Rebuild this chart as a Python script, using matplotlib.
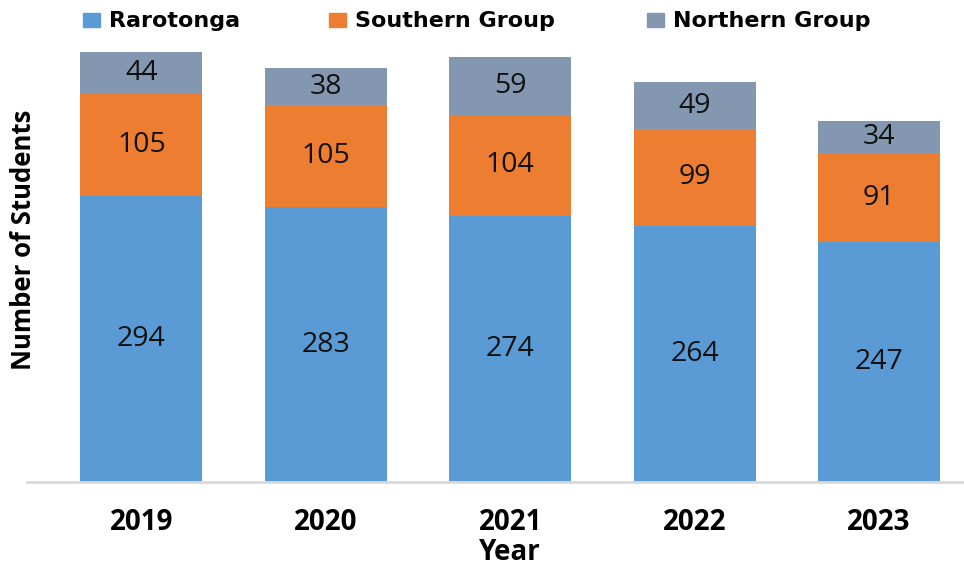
import numpy as np
import matplotlib.pyplot as plt
from matplotlib.patches import Rectangle

years = ["2019", "2020", "2021", "2022", "2023"]
rarotonga = [294, 283, 274, 264, 247]
southern = [105, 105, 104, 99, 91]
northern = [44, 38, 59, 49, 34]
series_names = ["Rarotonga", "Southern Group", "Northern Group"]

plt.rcParams["font.family"] = ["Open Sans", "DejaVu Sans"]

colors = ["#5B9BD5", "#ED7D31", "#8497B0"]

fig = plt.figure(figsize=(9.64, 5.68), dpi=100)
ax = fig.add_axes([27 / 964, 86 / 568, 937 / 964, 442 / 568])

x = np.arange(len(years))
width = 0.66
bottom = np.zeros(len(years))
for vals, c, name in zip([rarotonga, southern, northern], colors, series_names):
    bars = ax.bar(x, vals, width, bottom=bottom, color=c, label=name)
    ax.bar_label(bars, labels=[str(v) for v in vals], label_type="center",
                 fontsize=20.5, color="#111111")
    bottom += np.array(vals)

ax.set_xlim(-0.62, 4.46)
ax.set_ylim(0, 455)
for s in ["top", "right", "left"]:
    ax.spines[s].set_visible(False)
ax.spines["bottom"].set_color("#D9D9D9")
ax.spines["bottom"].set_linewidth(2)
ax.set_yticks([])
ax.set_xticks(x)
ax.set_xticklabels(years, fontsize=20, fontweight="bold")
ax.tick_params(axis="x", length=0, pad=19)

fig.text(510 / 964, 1 - 552 / 568, "Year", ha="center", va="center",
         fontsize=20, fontweight="bold")
fig.text(24 / 964, 1 - 240 / 568, "Number of Students", ha="center", va="center",
         rotation=90, fontsize=18.5, fontweight="bold")

# legend placed by hand to match the original spacing
leg_x = [83, 329, 647]
for lx, c, name in zip(leg_x, colors, series_names):
    fig.patches.append(Rectangle((lx / 964, 1 - 27 / 568), 17 / 964, 14 / 568,
                                 transform=fig.transFigure, color=c))
    fig.text((lx + 26) / 964, 1 - 27 / 568, name, ha="left", va="baseline",
             fontsize=16, fontweight="bold", family=["DejaVu Sans"])

fig.savefig("out.png", dpi=100)
